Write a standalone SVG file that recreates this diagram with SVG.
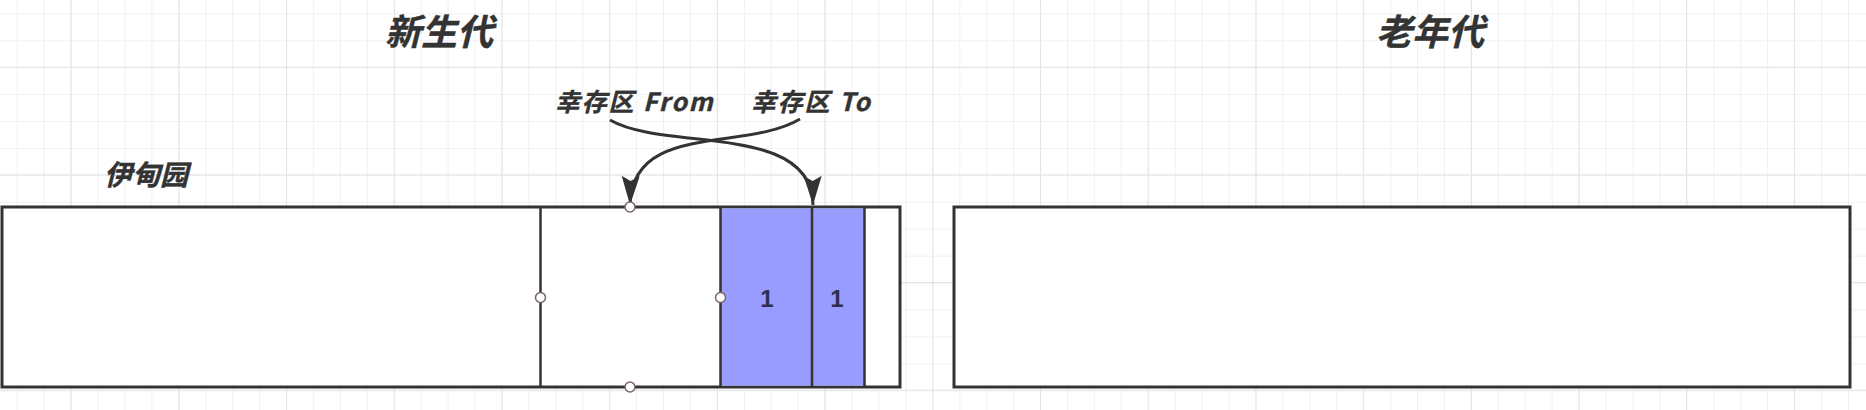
<svg xmlns="http://www.w3.org/2000/svg" width="1866" height="410" viewBox="0 0 1866 410">
  <defs>
    <pattern id="minor" x="16.7" y="13.3" width="26.93" height="26.93" patternUnits="userSpaceOnUse">
      <path d="M0 0 H26.93 M0 0 V26.93" fill="none" stroke="#ededed" stroke-width="1.6"/>
    </pattern>
    <pattern id="major" x="70.7" y="66.7" width="107.7" height="107.7" patternUnits="userSpaceOnUse">
      <path d="M0 0 H107.7 M0 0 V107.7" fill="none" stroke="#e3e3e3" stroke-width="1.8"/>
    </pattern>
    <marker id="arrow" markerUnits="userSpaceOnUse" markerWidth="32" markerHeight="22" refX="29" refY="9" orient="auto">
      <path d="M0 0 L29 9 L0 18 L5 9 Z" fill="#333"/>
    </marker>
    <style>
      .title { font-family: "Noto Sans CJK SC", "Liberation Sans", sans-serif; font-weight: bold; font-style: italic; fill: #333; stroke: #333; stroke-width: 0.4; }
      .box { fill: #fff; stroke: #333; stroke-width: 3; }
      .div { stroke: #333; stroke-width: 2.5; }
      .blue { fill: #999cff; }
      .handle { fill: #fff; stroke: #7a6464; stroke-width: 1.5; }
      .num { font-family: "Liberation Sans", sans-serif; font-weight: bold; font-size: 24px; fill: #2e3050; text-anchor: middle; }
      .conn { fill: none; stroke: #333; stroke-width: 3; }
    </style>
  </defs>
  <rect width="1866" height="410" fill="#fff"/>
  <rect width="1866" height="410" fill="url(#minor)"/>
  <rect width="1866" height="410" fill="url(#major)"/>

  <g id="title-young"><text class="title" x="439" y="45" font-size="36" text-anchor="middle">新生代</text></g>
  <g id="title-old"><text class="title" x="1430" y="45" font-size="36" text-anchor="middle">老年代</text></g>
  <g id="label-eden"><text class="title" x="104" y="185" font-size="28">伊甸园</text></g>
  <g id="label-from"><text class="title" x="555" y="111" font-size="25" letter-spacing="1.8">幸存区 From</text></g>
  <g id="label-to"><text class="title" x="751" y="111" font-size="25" letter-spacing="1.8">幸存区 To</text></g>

  <g id="young-gen">
    <rect class="box" x="2" y="207" width="898" height="180"/>
    <rect class="blue" x="721" y="208.5" width="143" height="177"/>
    <line class="div" x1="540.5" y1="207" x2="540.5" y2="387"/>
    <line class="div" x1="720.5" y1="207" x2="720.5" y2="387" stroke-width="4"/>
    <line class="div" x1="812" y1="207" x2="812" y2="387"/>
    <line class="div" x1="864.5" y1="207" x2="864.5" y2="387"/>
    <text class="num" x="767" y="307">1</text>
    <text class="num" x="837" y="307">1</text>
  </g>

  <g id="old-gen">
    <rect class="box" x="954" y="207" width="896" height="180"/>
  </g>

  <g id="connectors">
    <path class="conn" d="M610 120 C665 152 812 122 813 205" marker-end="url(#arrow)"/>
    <path class="conn" d="M800 119 C745 152 632 122 630 205" marker-end="url(#arrow)"/>
  </g>

  <g id="handles">
    <circle class="handle" cx="630" cy="207" r="5"/>
    <circle class="handle" cx="630" cy="387" r="5"/>
    <circle class="handle" cx="540.5" cy="297.5" r="5"/>
    <circle class="handle" cx="720.5" cy="297.5" r="5"/>
  </g>
</svg>
